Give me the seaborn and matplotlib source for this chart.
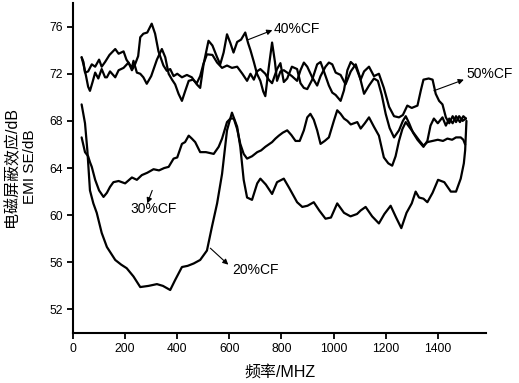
import matplotlib
matplotlib.use("Agg")
import matplotlib.pyplot as plt
import seaborn as sns

# frequency (MHz) / shielding effectiveness (dB)
freq_20 = [33, 46, 55, 65, 78, 91, 110, 130, 162, 185, 206, 232, 258, 290, 322, 345, 373, 392,
           418, 440, 463, 488, 514, 533, 553, 572, 591, 610, 630, 642, 655, 668, 687, 707, 719,
           740, 764, 783, 809, 830, 860, 880, 900, 924, 945, 969, 990, 1014, 1040, 1065, 1090,
           1104, 1123, 1148, 1174, 1195, 1219, 1240, 1260, 1280, 1300, 1315, 1328, 1345, 1360,
           1380, 1401, 1425, 1450, 1470, 1488, 1500, 1505, 1510]
se_20 = [69.4, 67.8, 65.5, 62.1, 61.0, 60.2, 58.5, 57.3, 56.2, 55.8, 55.5, 54.8, 53.9, 54.0, 54.15,
         54.0, 53.65, 54.5, 55.6, 55.7, 55.9, 56.2, 57.0, 59.0, 61.0, 63.5, 67.2, 68.7, 67.5, 65.8,
         63.0, 61.5, 61.3, 62.7, 63.1, 62.6, 61.8, 62.8, 63.1, 62.3, 61.1, 60.7, 60.8, 61.1, 60.4,
         59.7, 59.8, 61.0, 60.2, 59.9, 60.1, 60.4, 60.7, 59.9, 59.3, 60.1, 60.8, 59.8, 58.9, 60.2,
         61.0, 62.0, 61.5, 61.4, 61.1, 61.9, 63.0, 62.8, 62.0, 62.0, 63.1, 64.4, 65.5, 68.0]

freq_30 = [33, 46, 58, 65, 72, 85, 100, 117, 130, 142, 155, 175, 200, 226, 245, 264, 285, 309,
           330, 350, 367, 386, 400, 418, 430, 444, 456, 469, 488, 510, 540, 559, 572, 591, 604,
           617, 630, 642, 655, 668, 687, 707, 722, 738, 764, 777, 790, 805, 822, 838, 854, 870,
           886, 899, 911, 924, 937, 950, 966, 982, 1001, 1014, 1027, 1040, 1053, 1066, 1091, 1104,
           1120, 1136, 1155, 1174, 1193, 1210, 1225, 1238, 1251, 1264, 1277, 1290, 1310, 1330,
           1345, 1360, 1380, 1400, 1420, 1437, 1455, 1470, 1488, 1498, 1505]
se_30 = [66.6, 65.35, 65.0, 64.5, 64.1, 63.0, 62.1, 61.55, 61.9, 62.4, 62.8, 62.9, 62.7, 63.2,
         63.0, 63.4, 63.6, 63.9, 63.8, 64.0, 64.1, 64.8, 64.9, 66.05, 66.2, 66.75, 66.5, 66.2,
         65.35, 65.35, 65.2, 65.8, 66.5, 67.9, 68.2, 68.2, 67.3, 66.05, 65.2, 64.8, 65.0, 65.35,
         65.5, 65.8, 66.2, 66.5, 66.75, 67.0, 67.2, 66.8, 66.3, 66.3, 67.2, 68.3, 68.6, 68.1,
         67.2, 66.05, 66.3, 66.6, 68.0, 68.9, 68.6, 68.2, 68.0, 67.7, 67.9, 67.35, 67.8, 68.3,
         67.5, 66.75, 64.9, 64.4, 64.2, 65.0, 66.3, 67.3, 67.9, 67.5, 66.9, 66.3, 65.9, 66.2,
         66.3, 66.4, 66.3, 66.5, 66.4, 66.6, 66.6, 66.4, 66.0]

freq_40 = [33, 40, 50, 58, 65, 75, 85, 97, 110, 123, 130, 142, 162, 175, 194, 213, 226, 238,
           250, 258, 270, 285, 302, 315, 328, 347, 360, 373, 386, 400, 418, 437, 456, 475, 488,
           501, 520, 535, 553, 565, 578, 591, 604, 616, 630, 645, 661, 672, 681, 694, 706, 719,
           730, 738, 751, 764, 775, 783, 796, 809, 822, 840, 860, 873, 886, 899, 918, 937, 950,
           969, 982, 995, 1008, 1027, 1046, 1066, 1085, 1100, 1117, 1136, 1155, 1170, 1185, 1200,
           1215, 1232, 1251, 1266, 1277, 1290, 1305, 1322, 1345, 1360, 1372, 1385, 1400, 1418,
           1431, 1444, 1457, 1470, 1485, 1498, 1508]
se_40 = [73.4, 72.8, 71.8, 70.9, 70.55, 71.3, 72.1, 71.6, 72.4, 71.7, 71.7, 72.2, 71.7, 72.3,
         72.5, 72.95, 72.3, 72.8, 73.5, 75.1, 75.4, 75.5, 76.25, 75.4, 73.9, 72.7, 72.25, 72.4,
         71.8, 72.0, 71.7, 71.9, 71.7, 71.1, 70.8, 72.8, 74.8, 74.4, 73.4, 72.8, 73.8, 75.35,
         74.6, 73.8, 74.7, 74.9, 75.5, 74.6, 74.0, 73.0, 72.0, 71.4, 70.5, 70.1, 72.5, 74.65,
         73.0, 71.4, 72.2, 72.3, 72.1, 71.8, 71.4, 72.3, 72.95, 72.6, 71.7, 71.0, 71.8, 72.6,
         72.95, 72.8, 72.1, 71.9, 71.1, 72.2, 72.8, 71.8, 70.3, 71.0, 71.6, 71.4, 70.2, 68.6,
         67.4, 66.6, 67.2, 68.0, 68.4, 67.8, 67.0, 66.4, 65.8, 66.3, 67.6, 68.2, 67.8, 68.3,
         67.6, 68.2, 67.8, 68.4, 67.9, 68.4, 68.2]

freq_50 = [33, 40, 46, 58, 72, 85, 100, 110, 123, 140, 162, 175, 194, 205, 226, 232, 245, 258,
           270, 283, 300, 322, 341, 354, 367, 380, 392, 405, 418, 430, 444, 460, 475, 488, 500,
           514, 535, 553, 572, 591, 610, 630, 650, 668, 681, 694, 706, 719, 738, 751, 764, 783,
           796, 809, 822, 840, 860, 873, 886, 899, 918, 937, 950, 963, 982, 995, 1008, 1027, 1040,
           1053, 1066, 1085, 1104, 1117, 1136, 1155, 1174, 1193, 1213, 1232, 1251, 1266, 1283,
           1300, 1322, 1335, 1345, 1365, 1380, 1392, 1405, 1418, 1431, 1444, 1457, 1470, 1482,
           1495, 1508]
se_50 = [73.4, 73.0, 72.1, 72.2, 72.8, 72.6, 73.2, 72.6, 73.0, 73.6, 74.1, 73.7, 73.9, 73.2,
         72.5, 73.1, 72.1, 72.0, 71.7, 71.15, 71.8, 73.2, 74.1, 73.4, 72.0, 71.5, 71.1, 70.3,
         69.7, 70.5, 71.4, 71.5, 71.2, 71.8, 72.8, 73.65, 73.6, 72.95, 72.5, 72.7, 72.5, 72.6,
         72.0, 71.4, 72.0, 71.5, 72.2, 72.4, 72.0, 71.5, 71.2, 72.4, 72.9, 71.3, 71.6, 72.6,
         72.4, 71.2, 70.8, 70.7, 71.5, 72.8, 73.0, 72.2, 71.0, 70.4, 70.2, 69.7, 70.6, 72.3,
         73.0, 72.6, 71.5, 72.2, 72.6, 71.8, 72.0, 70.8, 69.2, 68.4, 68.3, 68.5, 69.3, 69.1,
         69.3, 70.6, 71.5, 71.6, 71.5, 70.3, 69.7, 69.4, 68.3, 67.8, 68.4, 67.9, 68.4, 68.0, 68.2]

x_ticks = [0, 200, 400, 600, 800, 1000, 1200, 1400]
y_ticks = [52, 56, 60, 64, 68, 72, 76]

sns.set_style("ticks")
plt.rcParams["font.family"] = ["Liberation Sans", "Noto Sans CJK SC", "DejaVu Sans"]
plt.rcParams["text.color"] = "black"
plt.rcParams["axes.labelcolor"] = "black"

fig = plt.figure(figsize=(5.19, 3.83), dpi=100)
ax = fig.add_axes([0.1407, 0.1305, 0.7957, 0.8615])

for fx, se in [(freq_20, se_20), (freq_30, se_30), (freq_40, se_40), (freq_50, se_50)]:
    sns.lineplot(x=fx, y=se, color="black", linewidth=1.6, estimator=None, ax=ax)

ax.set_xlim(0, 1585)
ax.set_ylim(50, 78)
ax.set_xticks(x_ticks)
ax.set_yticks(y_ticks)
ax.tick_params(axis="both", direction="out", length=4, width=1.3, labelsize=8.7,
               colors="black", pad=3)
for side in ["left", "bottom"]:
    ax.spines[side].set_linewidth(1.5)
    ax.spines[side].set_color("black")
sns.despine(ax=ax)

ax.set_xlabel("频率/MHZ", fontsize=11.5, labelpad=7)
ax.set_ylabel("")
fig.text(0.023, 0.565, "电磁屏蔽效应/dB", rotation=90, fontsize=11.5, ha="center", va="center")
fig.text(0.058, 0.565, "EMI SE/dB", rotation=90, fontsize=11, ha="center", va="center")

arrow = dict(arrowstyle="-|>", color="black", lw=0.8, mutation_scale=8, shrinkA=0, shrinkB=0)
labels = [
    ("40%CF", (673, 74.9), (765, 75.7), (769, 75.8)),
    ("50%CF", (1385, 70.56), (1500, 71.5), (1511, 72.0)),
    ("30%CF", (304, 62.1), (285, 61.0), (219, 60.5)),
    ("20%CF", (527, 57.2), (596, 55.8), (611, 55.35)),
]
for text, tail, head, pos in labels:
    ax.annotate("", xy=head, xytext=tail, arrowprops=arrow)
    ax.text(pos[0], pos[1], text, fontsize=10, ha="left", va="center", color="black")

fig.savefig("out.png", dpi=100)
